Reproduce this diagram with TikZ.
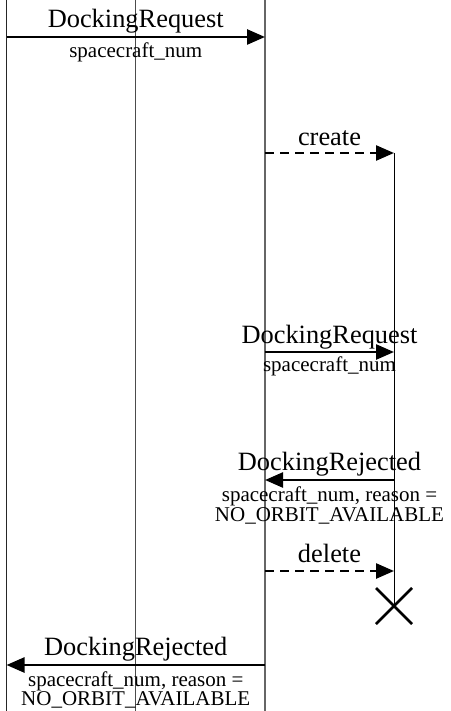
\documentclass[tikz,border=0pt]{standalone}
\usepackage{fontspec}
\setmainfont{Liberation Serif}
\usetikzlibrary{arrows.meta}
\begin{document}
\begin{tikzpicture}[x=1pt,y=-1pt,
  lifeA/.style={line width=1.2pt,draw=black!85},
  lifeB/.style={line width=1.2pt,draw=black!70},
  lifeC/.style={line width=1.2pt,draw=black!60},
  lifeD/.style={line width=1pt,draw=black},
  msg/.style={line width=2.5pt,-{Triangle[length=18pt,width=15pt]}},
  msgdash/.style={msg,dash pattern=on 9pt off 6pt},
  biglabel/.style={font=\fontsize{26.4}{28}\selectfont,inner sep=0pt,anchor=base},
  smalllabel/.style={font=\fontsize{21}{19.5}\selectfont,inner sep=0pt,anchor=base,align=center},
  killmark/.style={line width=2.5pt}]
\useasboundingbox (0,0) rectangle (450,711);
% lifelines
\coordinate (Atop) at (6.5,0);   \coordinate (Abot) at (6.5,711);
\coordinate (Btop) at (135.5,0); \coordinate (Bbot) at (135.5,711);
\coordinate (Ctop) at (265,0);   \coordinate (Cbot) at (265,711);
\coordinate (Dtop) at (394,153); \coordinate (Dbot) at (394,606);
\draw[lifeA] (Atop) -- (Abot);
\draw[lifeB] (Btop) -- (Bbot);
\draw[lifeC] (Ctop) -- (Cbot);
\draw[lifeD] (Dtop) -- (Dbot);
% message end points
\coordinate (m1s) at (6.5,37);  \coordinate (m1e) at (265,37);
\coordinate (m2s) at (265,153); \coordinate (m2e) at (394,153);
\coordinate (m3s) at (265,352); \coordinate (m3e) at (394,352);
\coordinate (m4s) at (394,480); \coordinate (m4e) at (265,480);
\coordinate (m5s) at (265,571); \coordinate (m5e) at (394,571);
\coordinate (m6s) at (265,665); \coordinate (m6e) at (6.5,665);
% messages
\draw[msg] (m1s) -- (m1e);
\node[biglabel] (l1) at (135.75,28) {DockingRequest};
\node[smalllabel] (s1) at (135.75,58) {spacecraft\_num};

\draw[msgdash] (m2s) -- (m2e);
\node[biglabel] (l2) at (329.5,146) {create};

\draw[msg] (m3s) -- (m3e);
\node[biglabel] (l3) at (329.5,343) {DockingRequest};
\node[smalllabel] (s3) at (329.5,371) {spacecraft\_num};

\draw[msg] (m4s) -- (m4e);
\node[biglabel] (l4) at (329.5,470) {DockingRejected};
\node[smalllabel] (s4) at (329.5,521) {spacecraft\_num, reason =\\NO\_ORBIT\_AVAILABLE};

\draw[msgdash] (m5s) -- (m5e);
\node[biglabel] (l5) at (329.5,562) {delete};

\draw[msg] (m6s) -- (m6e);
\node[biglabel] (l6) at (135.75,655) {DockingRejected};
\node[smalllabel] (s6) at (135.75,705.5) {spacecraft\_num, reason =\\NO\_ORBIT\_AVAILABLE};

% destruction mark
\coordinate (x1) at (376,588); \coordinate (x2) at (412,624);
\coordinate (x3) at (412,588); \coordinate (x4) at (376,624);
\draw[killmark] (x1) -- (x2);
\draw[killmark] (x3) -- (x4);
\end{tikzpicture}
\end{document}
